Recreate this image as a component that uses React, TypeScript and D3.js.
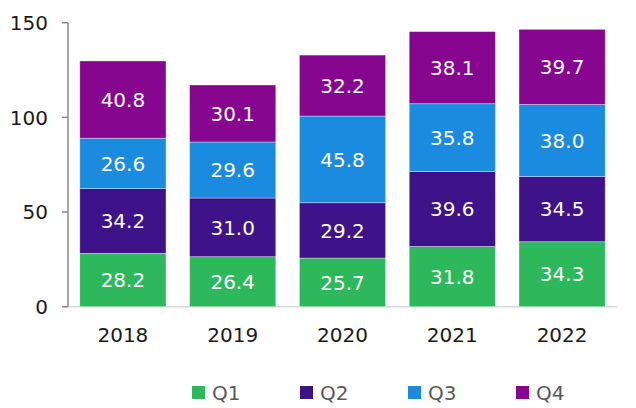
import React from "react";
import * as d3 from "d3";

const years = ["2018", "2019", "2020", "2021", "2022"];
const seriesNames = ["Q1", "Q2", "Q3", "Q4"];
const q1 = [28.2, 26.4, 25.7, 31.8, 34.3];
const q2 = [34.2, 31.0, 29.2, 39.6, 34.5];
const q3 = [26.6, 29.6, 45.8, 35.8, 38.0];
const q4 = [40.8, 30.1, 32.2, 38.1, 39.7];
const yTicks = [0, 50, 100, 150];
const colors = ["#2EB85C", "#3E1288", "#1B8BE0", "#86068F"];

const W = 636;
const H = 408;
const FONT = "DejaVu Sans, Verdana, sans-serif";

export default function App() {
  const rows = years.map((y, i) => ({ year: y, Q1: q1[i], Q2: q2[i], Q3: q3[i], Q4: q4[i] }));
  const stack = d3.stack<any>().keys(seriesNames)(rows);
  const x = d3.scaleBand().domain(years).range([68, 617]).paddingInner(0.215).paddingOuter(0.1075);
  const y = d3.scaleLinear().domain([0, 150]).range([306.7, 22.7]);

  return (
    <svg width={W} height={H} style={{ position: "absolute", left: 0, top: 0, fontFamily: FONT }}>
      <rect width={W} height={H} fill="#fff" />
      {/* baseline */}
      <line x1={62} x2={617} y1={y(0)} y2={y(0)} stroke="#d9d9d9" strokeWidth={1.5} />
      {/* bars */}
      {stack.map((s, si) =>
        s.map((d, i) => {
          const x0 = x(years[i])!;
          const top = y(d[1]);
          const bot = y(d[0]);
          return (
            <g key={`${si}-${i}`}>
              <rect x={x0} y={top} width={x.bandwidth()} height={bot - top} fill={colors[si]} stroke="#fff" strokeOpacity={0.5} strokeWidth={0.7} />
              <text
                x={x0 + x.bandwidth() / 2}
                y={(top + bot) / 2}
                dy="0.36em"
                textAnchor="middle"
                fill="#fff"
                fontSize={20}
              >
                {(d[1] - d[0]).toFixed(1)}
              </text>
            </g>
          );
        })
      )}
      {/* y axis */}
      <line x1={68} x2={68} y1={y(150)} y2={y(0)} stroke="#888" strokeWidth={1.5} />
      {yTicks.map((t) => (
        <g key={t}>
          <line x1={62} x2={68} y1={y(t)} y2={y(t)} stroke="#888" strokeWidth={1.5} />
          <text x={48} y={y(t)} dy="0.36em" textAnchor="end" fontSize={20} fill="#1a1a1a">
            {t}
          </text>
        </g>
      ))}
      {/* x labels */}
      {years.map((yr) => (
        <text key={yr} x={x(yr)! + x.bandwidth() / 2} y={342} textAnchor="middle" fontSize={20} fill="#1a1a1a">
          {yr}
        </text>
      ))}
      {/* legend */}
      {seriesNames.map((n, i) => {
        const lx = 192 + i * 108;
        return (
          <g key={n}>
            <rect x={lx} y={386} width={13} height={13} fill={colors[i]} />
            <text x={lx + 20} y={392.5} dy="0.36em" fontSize={20} fill="#595959">
              {n}
            </text>
          </g>
        );
      })}
    </svg>
  );
}
